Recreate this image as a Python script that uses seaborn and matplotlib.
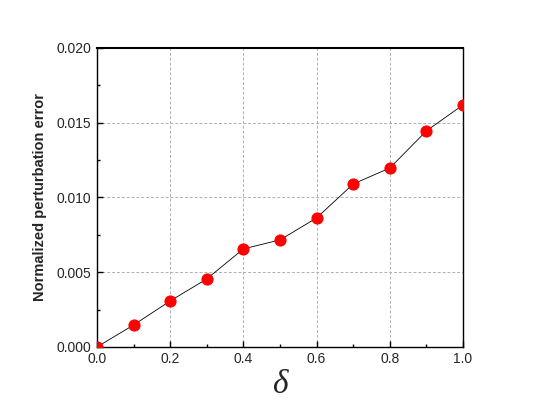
import numpy as np
import pandas as pd
import matplotlib
matplotlib.use("Agg")
import matplotlib.pyplot as plt
import seaborn as sns
from matplotlib.ticker import MultipleLocator, FormatStrFormatter

delta = [0.0, 0.1, 0.2, 0.3, 0.4, 0.5, 0.6, 0.7, 0.8, 0.9, 1.0]
error = [0.0, 0.00147, 0.00308, 0.00455, 0.00656, 0.00716, 0.00863,
         0.01090, 0.01197, 0.01445, 0.01619]

df = pd.DataFrame({"delta": delta, "error": error})

sns.set_style("white")
plt.rcParams['font.family'] = ['Liberation Sans', 'DejaVu Sans']

fig = plt.figure(figsize=(5.39, 4.17), dpi=100)
ax = fig.add_axes([0.180, 0.168, 0.679, 0.717])

sns.lineplot(data=df, x="delta", y="error", ax=ax, color="black", lw=0.6,
             marker="o", markersize=8, markerfacecolor="red",
             markeredgecolor="red", zorder=3)

ax.set_xlim(0, 1.0)
ax.set_ylim(0, 0.020)
ax.xaxis.set_major_locator(MultipleLocator(0.2))
ax.xaxis.set_minor_locator(MultipleLocator(0.1))
ax.yaxis.set_major_locator(MultipleLocator(0.005))
ax.yaxis.set_minor_locator(MultipleLocator(0.0025))
ax.xaxis.set_major_formatter(FormatStrFormatter('%.1f'))
ax.yaxis.set_major_formatter(FormatStrFormatter('%.3f'))

ax.grid(True, which='major', color='#b0b0b0', linestyle=(0, (3, 2)), lw=0.7)
ax.tick_params(which='both', direction='in', labelsize=10, color='black',
               top=False, right=False, bottom=True, left=True)
ax.tick_params(which='major', length=4, width=1, pad=4)
ax.tick_params(which='minor', length=2.5, width=1)
for s in ax.spines.values():
    s.set_color('black')
    s.set_linewidth(1.0)
ax.spines['top'].set_linewidth(1.5)

ax.set_xlabel('δ', fontsize=24, family='Liberation Serif', style='italic',
              labelpad=2)
ax.set_ylabel('Normalized perturbation error', fontsize=10.5,
              fontweight='bold', labelpad=7)

fig.savefig("out.png", dpi=100)
